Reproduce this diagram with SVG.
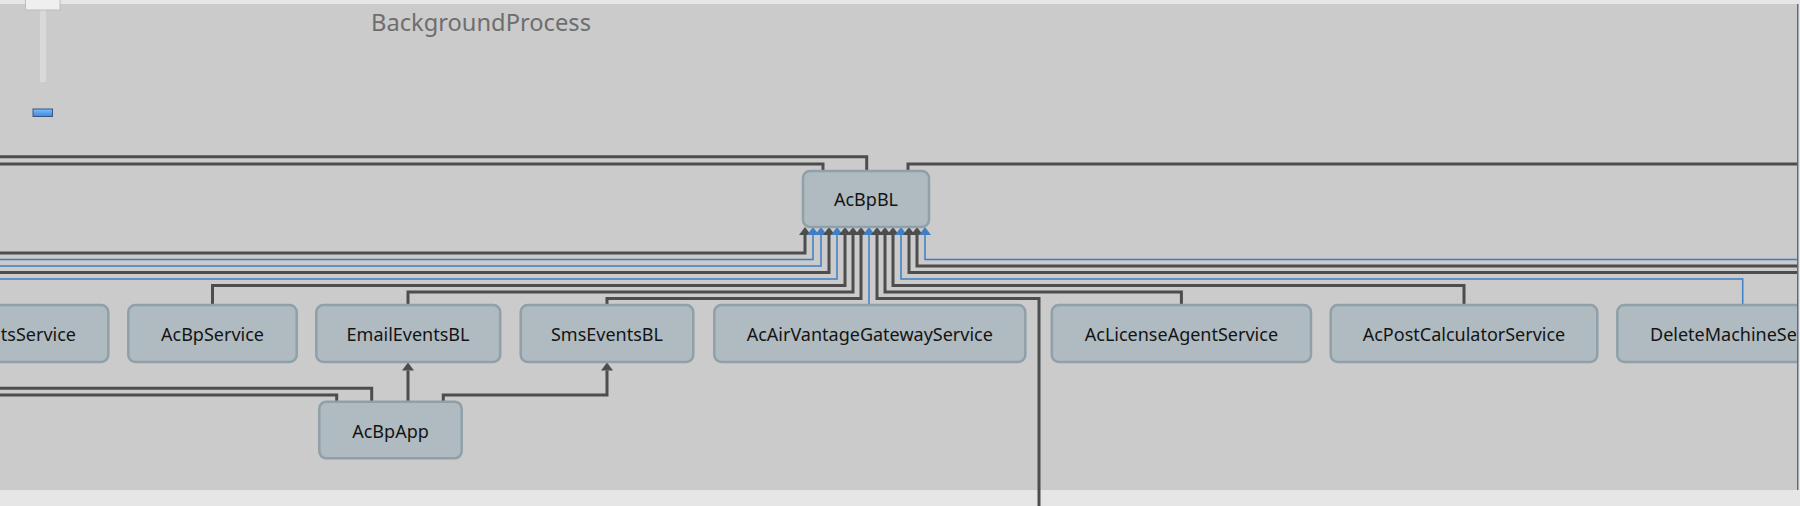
<svg xmlns="http://www.w3.org/2000/svg" width="1800" height="506" viewBox="0 0 1800 506">
<style>
.node rect{fill:#afbbc0;stroke:#8fa0a8;stroke-width:2.5}
.node text{font-family:"Noto Sans","Liberation Sans",sans-serif;font-size:18px;fill:#141414;text-anchor:middle}
.dk{fill:none;stroke:#4d4d4d;stroke-width:3}
.bl{fill:none;stroke:#3f7ec4;stroke-width:1.5}
.adk{marker-end:url(#ad)}
.abl{marker-end:url(#ab)}
</style>
<defs>
<marker id="ad" markerUnits="userSpaceOnUse" viewBox="0 0 8 12" refX="0" refY="6" markerWidth="8" markerHeight="12" orient="auto"><path d="M0,0 L8,6 L0,12 z" fill="#4d4d4d"/></marker>
<marker id="ab" markerUnits="userSpaceOnUse" viewBox="0 0 8 12" refX="0" refY="6" markerWidth="8" markerHeight="12" orient="auto"><path d="M0,0 L8,6 L0,12 z" fill="#3f7ec4"/></marker>
<linearGradient id="gb" x1="0" y1="0" x2="0" y2="1"><stop offset="0" stop-color="#7cc0f8"/><stop offset="1" stop-color="#3a88dc"/></linearGradient>
<clipPath id="cp"><rect x="0" y="0" width="1797" height="506"/></clipPath>
</defs>
<rect x="0" y="0" width="1800" height="506" fill="#e6e6e6"/>
<rect x="0" y="4" width="1797" height="486" fill="#cbcbcb"/>
<rect x="1797" y="4" width="1.5" height="486" fill="#5c6c84"/>
<g id="zoom-slider">
<rect x="40" y="10" width="6" height="72" fill="#d9d9d9"/>
<rect x="25.5" y="-2" width="34.5" height="12" fill="#efefef" stroke="#bcbcbc" stroke-width="1"/>
<rect x="33" y="109" width="19.5" height="7.5" fill="url(#gb)" stroke="#3a5580" stroke-width="1"/>
</g>
<text id="title" x="371" y="31" font-family="Noto Sans, Liberation Sans, sans-serif" font-size="23" fill="#6e6e6e" textLength="220" lengthAdjust="spacingAndGlyphs">BackgroundProcess</text>
<g clip-path="url(#cp)">
<g id="connectors">
<path class="dk" d="M866.7,171 V156.7 H-10"/>
<path class="dk" d="M823,171 V164 H-10"/>
<path class="dk" d="M908,171 V164 H1810"/>
<path class="dk adk" d="M-10,253 H805 V235"/>
<path class="bl abl" d="M-10,259.5 H813 V235"/>
<path class="bl abl" d="M-10,266 H821 V235"/>
<path class="dk adk" d="M-10,272.5 H829 V235"/>
<path class="bl abl" d="M-10,279 H837 V235"/>
<path class="dk adk" d="M212.5,305 V285.5 H845 V235"/>
<path class="dk adk" d="M408,305 V292 H853 V235"/>
<path class="dk adk" d="M607,305 V298.5 H861 V235"/>
<path class="bl abl" d="M869,305 V235"/>
<path class="dk adk" d="M1039,510 V298.5 H877 V235"/>
<path class="dk adk" d="M1181.4,305 V292 H885 V235"/>
<path class="dk adk" d="M1464,305 V285.5 H893 V235"/>
<path class="bl abl" d="M1742.7,305 V279 H901 V235"/>
<path class="dk adk" d="M1810,272.5 H909 V235"/>
<path class="dk adk" d="M1810,266 H917 V235"/>
<path class="bl abl" d="M1810,259.5 H925 V235"/>
<path class="dk adk" d="M408,401.7 V370.5"/>
<path class="dk adk" d="M443.3,401.7 V395 H607 V370.5"/>
<path class="dk" d="M371.7,401.7 V388.3 H-10"/>
<path class="dk" d="M336.7,401.7 V395 H-10"/>
</g>
<g id="n-acbpbl" class="node"><rect x="803" y="171" width="126" height="56" rx="7"/><text x="866" y="206">AcBpBL</text></g>
<g id="n-eventsservice" class="node"><rect x="-30" y="305" width="138.3" height="57" rx="7"/><text x="76" y="340.5" style="text-anchor:end">tsService</text></g>
<g id="n-acbpservice" class="node"><rect x="128.3" y="305" width="168.4" height="57" rx="7"/><text x="212.5" y="340.5">AcBpService</text></g>
<g id="n-emaileventsbl" class="node"><rect x="316.3" y="305" width="183.9" height="57" rx="7"/><text x="408" y="340.5">EmailEventsBL</text></g>
<g id="n-smseventsbl" class="node"><rect x="520.7" y="305" width="172.6" height="57" rx="7"/><text x="607" y="340.5">SmsEventsBL</text></g>
<g id="n-acairvantage" class="node"><rect x="714.3" y="305" width="311" height="57" rx="7"/><text x="869.8" y="340.5">AcAirVantageGatewayService</text></g>
<g id="n-aclicense" class="node"><rect x="1051.8" y="305" width="259.2" height="57" rx="7"/><text x="1181.4" y="340.5">AcLicenseAgentService</text></g>
<g id="n-acpostcalc" class="node"><rect x="1330.7" y="305" width="266.6" height="57" rx="7"/><text x="1464" y="340.5">AcPostCalculatorService</text></g>
<g id="n-deletemachine" class="node"><rect x="1617.3" y="305" width="250" height="57" rx="7"/><text x="1650" y="340.5" style="text-anchor:start">DeleteMachineSe</text></g>
<g id="n-acbpapp" class="node"><rect x="319.3" y="401.7" width="142.4" height="56.6" rx="7"/><text x="390.5" y="437.5">AcBpApp</text></g>
</g>
</svg>
